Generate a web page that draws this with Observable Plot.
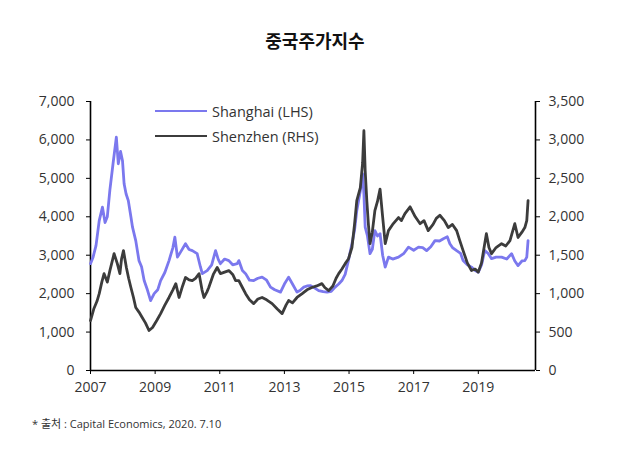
<!DOCTYPE html>
<html>
<head>
<meta charset="utf-8">
<script src="https://cdn.jsdelivr.net/npm/d3@7"></script>
<script src="https://cdn.jsdelivr.net/npm/@observablehq/plot@0.6"></script>
<style>
  body { margin: 0; background: #fff; }
  #wrap { position: relative; width: 630px; height: 454px; font-family: "Open Sans", sans-serif; overflow: hidden; }
  #chart { position: absolute; left: 0; top: 0; }
  #title { position: absolute; left: 0; width: 630px; top: 27px; text-align: center; font: bold 18px "Noto Sans CJK KR", sans-serif; color: #111; }
  .leg { position: absolute; left: 155px; height: 20px; display: flex; align-items: center; font-size: 14.5px; color: #333; }
  .leg .sw { width: 52px; height: 0; border-top: 2.8px solid; margin-right: 5px; }
  #note { position: absolute; left: 32px; top: 415px; font-size: 11px; color: #333; font-family: "Open Sans", "Noto Sans CJK KR", sans-serif; }
</style>
</head>
<body>
<div id="wrap">
  <div id="chart"></div>
  <div id="title">중국주가지수</div>
  <div class="leg" id="leg1" style="top:101px"><span class="sw" style="border-color:#7b78ee"></span><span id="l1"></span></div>
  <div class="leg" id="leg2" style="top:126px"><span class="sw" style="border-color:#3c3c3c"></span><span id="l2"></span></div>
  <div id="note">* 출처 : Capital Economics, 2020. 7.10</div>
</div>
<script>
const seriesNames = ["Shanghai (LHS)", "Shenzhen (RHS)"];
const leftTicks = [0, 1000, 2000, 3000, 4000, 5000, 6000, 7000];
const rightTicks = [0, 500, 1000, 1500, 2000, 2500, 3000, 3500];
const yearTicks = [2007, 2009, 2011, 2013, 2015, 2017, 2019];

const shanghaiDates = [
  2007.00, 2007.08, 2007.17, 2007.27, 2007.37, 2007.45, 2007.52, 2007.60, 2007.70, 2007.80,
  2007.86, 2007.93, 2007.99, 2008.04, 2008.10, 2008.17, 2008.25, 2008.30, 2008.40, 2008.50,
  2008.58, 2008.66, 2008.76, 2008.86, 2008.97, 2009.08, 2009.17, 2009.30, 2009.43, 2009.55,
  2009.61, 2009.69, 2009.80, 2009.94, 2010.05, 2010.15, 2010.30, 2010.40, 2010.46, 2010.61,
  2010.75, 2010.87, 2010.95, 2011.02, 2011.15, 2011.28, 2011.40, 2011.54, 2011.59, 2011.70,
  2011.80, 2011.92, 2012.05, 2012.18, 2012.31, 2012.45, 2012.57, 2012.70, 2012.88, 2013.00,
  2013.13, 2013.25, 2013.39, 2013.48, 2013.60, 2013.70, 2013.80, 2013.93, 2014.06, 2014.20,
  2014.32, 2014.45, 2014.57, 2014.68, 2014.78, 2014.88, 2014.98, 2015.09, 2015.17, 2015.24,
  2015.35, 2015.42, 2015.46, 2015.50, 2015.57, 2015.65, 2015.72, 2015.80, 2015.88, 2015.96,
  2016.04, 2016.12, 2016.22, 2016.35, 2016.53, 2016.70, 2016.84, 2017.00, 2017.15, 2017.28,
  2017.40, 2017.53, 2017.66, 2017.80, 2017.92, 2018.04, 2018.12, 2018.20, 2018.33, 2018.45,
  2018.53, 2018.66, 2018.79, 2018.90, 2019.00, 2019.10, 2019.20, 2019.30, 2019.41, 2019.55,
  2019.72, 2019.88, 2020.03, 2020.13, 2020.23, 2020.35, 2020.44, 2020.50, 2020.54
];
const shanghaiValues = [
  2780, 2950, 3250, 3900, 4250, 3850, 4000, 4700, 5400, 6070,
  5380, 5700, 5460, 4860, 4600, 4420, 4000, 3730, 3380, 2860,
  2700, 2340, 2100, 1820, 2000, 2100, 2340, 2550, 2860, 3200,
  3470, 2950, 3100, 3300, 3150, 3120, 3040, 2700, 2520, 2600,
  2750, 3120, 2900, 2780, 2900, 2860, 2750, 2780, 2860, 2600,
  2520, 2350, 2340, 2400, 2430, 2350, 2170, 2100, 2040, 2250,
  2430, 2250, 2040, 2080, 2170, 2200, 2210, 2150, 2080, 2050,
  2040, 2060, 2170, 2250, 2340, 2500, 2860, 3300, 3650, 4160,
  4680, 5120, 4600, 3730, 3500, 3040, 3150, 3640, 3500, 3560,
  3000, 2690, 2950, 2900, 2950, 3050, 3210, 3130, 3210, 3200,
  3120, 3220, 3380, 3370, 3430, 3480, 3300, 3200, 3120, 3050,
  2860, 2750, 2690, 2600, 2560, 2750, 3120, 3050, 2910, 2950,
  2950, 2900, 3040, 2850, 2730, 2850, 2860, 2950, 3380
];

const shenzhenDates = [
  2007.00, 2007.10, 2007.20, 2007.27, 2007.35, 2007.42, 2007.52, 2007.60, 2007.73, 2007.83,
  2007.91, 2007.96, 2008.02, 2008.11, 2008.18, 2008.25, 2008.33, 2008.40, 2008.50, 2008.60,
  2008.70, 2008.81, 2008.92, 2009.05, 2009.17, 2009.30, 2009.43, 2009.55, 2009.64, 2009.74,
  2009.85, 2009.94, 2010.05, 2010.15, 2010.25, 2010.36, 2010.45, 2010.51, 2010.60, 2010.66,
  2010.80, 2010.92, 2011.02, 2011.15, 2011.28, 2011.40, 2011.49, 2011.59, 2011.70, 2011.80,
  2011.92, 2012.05, 2012.18, 2012.31, 2012.45, 2012.62, 2012.78, 2012.93, 2013.05, 2013.13,
  2013.25, 2013.39, 2013.55, 2013.70, 2013.85, 2014.00, 2014.16, 2014.25, 2014.37, 2014.50,
  2014.60, 2014.68, 2014.78, 2014.88, 2014.98, 2015.09, 2015.17, 2015.24, 2015.35, 2015.42,
  2015.46, 2015.50, 2015.55, 2015.60, 2015.65, 2015.72, 2015.80, 2015.88, 2015.96, 2016.04,
  2016.12, 2016.22, 2016.35, 2016.53, 2016.62, 2016.73, 2016.89, 2017.05, 2017.20, 2017.32,
  2017.45, 2017.60, 2017.70, 2017.81, 2017.95, 2018.07, 2018.20, 2018.33, 2018.42, 2018.53,
  2018.66, 2018.79, 2018.90, 2019.00, 2019.10, 2019.25, 2019.33, 2019.41, 2019.55, 2019.72,
  2019.85, 2019.98, 2020.13, 2020.23, 2020.35, 2020.44, 2020.50, 2020.54
];
const shenzhenValues = [
  650, 800, 900, 1000, 1150, 1260, 1150, 1300, 1520, 1390,
  1260, 1450, 1560, 1340, 1200, 1080, 950, 820, 760, 690,
  620, 520, 560, 650, 740, 850, 950, 1050, 1130, 950,
  1100, 1210, 1180, 1170, 1200, 1260, 1050, 950, 1020, 1080,
  1250, 1340, 1260, 1280, 1300, 1250, 1170, 1170, 1080, 1000,
  920, 870, 930, 950, 920, 870, 800, 740, 850, 910,
  880, 950, 1000, 1050, 1080, 1100, 1130, 1080, 1040, 1100,
  1200, 1260, 1320, 1390, 1450, 1600, 1900, 2210, 2380, 2700,
  3120, 2600, 2210, 1900, 1650, 1800, 2080, 2200, 2360, 2000,
  1650, 1820, 1900, 1990, 1950, 2040, 2130, 2000, 1910, 1950,
  1820, 1900, 1980, 2020, 1950, 1860, 1900, 1820, 1700, 1560,
  1400, 1300, 1320, 1280, 1400, 1780, 1600, 1520, 1600, 1650,
  1620, 1690, 1910, 1730, 1800, 1860, 1950, 2210
];

document.getElementById("l1").textContent = seriesNames[0];
document.getElementById("l2").textContent = seriesNames[1];

const ratio = leftTicks[leftTicks.length - 1] / rightTicks[rightTicks.length - 1];
const sh = shanghaiDates.map((t, i) => ({t, v: shanghaiValues[i]}));
const sz = shenzhenDates.map((t, i) => ({t, v: shenzhenValues[i] * ratio}));
const xEnd = 2020.77;
const fmt = d3.format(",");

const chart = Plot.plot({
  width: 630,
  height: 454,
  marginTop: 101,
  marginBottom: 84,
  marginLeft: 90,
  marginRight: 95,
  style: {fontFamily: "'Open Sans', sans-serif", fontSize: "14px", color: "#333", background: "transparent"},
  x: {type: "linear", domain: [yearTicks[0], xEnd]},
  y: {domain: [0, leftTicks[leftTicks.length - 1]]},
  marks: [
    Plot.axisY(leftTicks, {anchor: "left", tickFormat: fmt, tickSize: 4, tickPadding: 12, label: null, stroke: "#000"}),
    Plot.axisY(rightTicks.map(d => d * ratio), {anchor: "right", tickFormat: d => fmt(d / ratio), tickSize: 4, tickPadding: 9, label: null, stroke: "#000"}),
    Plot.axisX(yearTicks, {tickFormat: d => String(d), tickSize: 4, tickPadding: 8, label: null, stroke: "#000"}),
    Plot.ruleX([yearTicks[0], xEnd], {stroke: "#000", strokeWidth: 1.6}),
    Plot.ruleY([0], {stroke: "#000", strokeWidth: 1.6}),
    Plot.line(sh, {x: "t", y: "v", stroke: "#7b78ee", strokeWidth: 2.8, strokeLinejoin: "round"}),
    Plot.line(sz, {x: "t", y: "v", stroke: "#3c3c3c", strokeWidth: 2.8, strokeLinejoin: "round"})
  ]
});
document.getElementById("chart").appendChild(chart);
</script>
</body>
</html>
